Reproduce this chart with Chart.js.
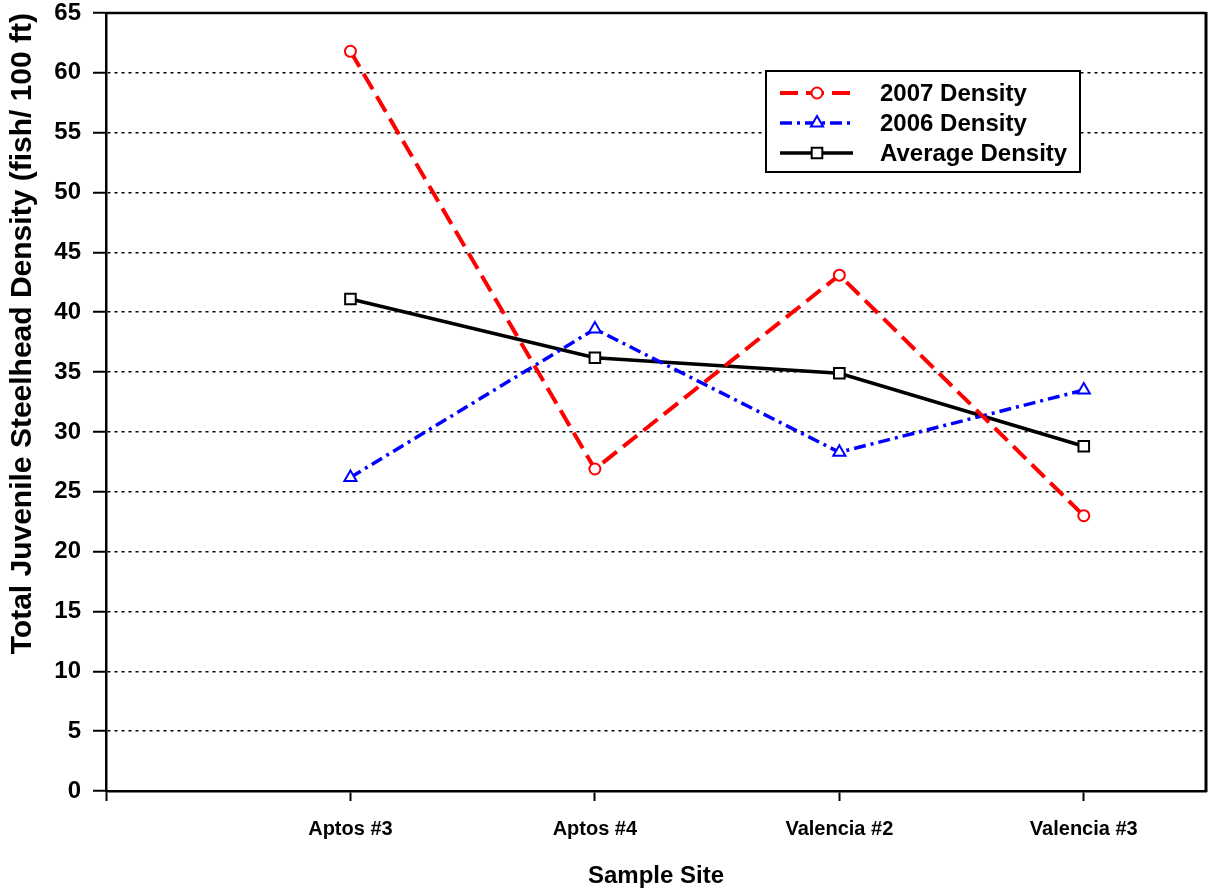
<!DOCTYPE html>
<html>
<head>
<meta charset="utf-8">
<script src="https://cdn.jsdelivr.net/npm/chart.js@4/dist/chart.umd.min.js"></script>
<style>
  html, body { margin: 0; padding: 0; background: #fff; }
  #wrap { width: 1210px; height: 892px; }
</style>
</head>
<body>
<div id="wrap"><canvas id="c" width="1210" height="892"></canvas></div>
<script>
const categories = ['Aptos #3', 'Aptos #4', 'Valencia #2', 'Valencia #3'];
const density2007 = [61.8, 26.9, 43.1, 23.0];
const density2006 = [26.2, 38.6, 28.3, 33.5];
const densityAvg = [41.1, 36.2, 34.9, 28.8];
const yTicks = [0, 5, 10, 15, 20, 25, 30, 35, 40, 45, 50, 55, 60, 65];
const seriesNames = ['2007 Density', '2006 Density', 'Average Density'];

const FONT = "Arial, 'Liberation Sans', sans-serif";
const toPts = arr => arr.map((v, i) => ({ x: i + 1, y: v }));

function drawMarker(ctx, ds, x, y) {
  ctx.save();
  ctx.setLineDash([]);
  ctx.lineWidth = ds.pointBorderWidth;
  ctx.strokeStyle = ds.pointBorderColor;
  ctx.fillStyle = ds.pointBackgroundColor;
  if (Chart.helpers && Chart.helpers.drawPoint) {
    Chart.helpers.drawPoint(ctx, { pointStyle: ds.pointStyle, rotation: 0, radius: ds.pointRadius, borderWidth: ds.pointBorderWidth }, x, y);
  } else {
    ctx.beginPath();
    ctx.arc(x, y, ds.pointRadius, 0, Math.PI * 2);
    ctx.fill();
    ctx.stroke();
  }
  ctx.restore();
}

const framePlugin = {
  id: 'frame',
  afterDraw(chart) {
    const { ctx, chartArea: a } = chart;
    ctx.save();
    ctx.strokeStyle = '#000';
    ctx.setLineDash([]);
    ctx.lineWidth = 2.5;
    ctx.beginPath();
    ctx.moveTo(a.left, a.top);
    ctx.lineTo(a.right, a.top);
    ctx.stroke();
    ctx.lineWidth = 3;
    ctx.beginPath();
    ctx.moveTo(a.right, a.top - 1);
    ctx.lineTo(a.right, a.bottom + 1);
    ctx.stroke();
    ctx.restore();

    // legend box
    const bx = a.left + 660, by = a.top + 58, bw = 314, bh = 101;
    ctx.save();
    ctx.fillStyle = '#fff';
    ctx.fillRect(bx, by, bw, bh);
    ctx.lineWidth = 2;
    ctx.strokeStyle = '#000';
    ctx.strokeRect(bx, by, bw, bh);
    const rows = [22, 52, 82];
    chart.data.datasets.forEach((ds, i) => {
      const y = by + rows[i];
      ctx.save();
      ctx.strokeStyle = ds.borderColor;
      ctx.lineWidth = ds.borderWidth;
      ctx.setLineDash(ds.borderDash || []);
      ctx.beginPath();
      ctx.moveTo(bx + 14, y);
      ctx.lineTo(bx + 87, y);
      ctx.stroke();
      ctx.restore();
      drawMarker(ctx, ds, bx + 51, y);
      ctx.fillStyle = '#000';
      ctx.font = 'bold 24px ' + FONT;
      ctx.textBaseline = 'middle';
      ctx.textAlign = 'left';
      ctx.fillText(ds.label, bx + 114, y + 1);
    });
    ctx.restore();
  }
};

new Chart(document.getElementById('c'), {
  type: 'line',
  data: {
    datasets: [
      {
        label: seriesNames[0],
        data: toPts(density2007),
        borderColor: '#ff0000',
        borderWidth: 4,
        borderDash: [18, 8],
        pointStyle: 'circle',
        pointRadius: 5.5,
        pointBorderColor: '#ff0000',
        pointBackgroundColor: '#ffffff',
        pointBorderWidth: 2,
        tension: 0,
        fill: false
      },
      {
        label: seriesNames[1],
        data: toPts(density2006),
        borderColor: '#0000ff',
        borderWidth: 3.5,
        borderDash: [12, 5, 3, 5],
        pointStyle: 'triangle',
        pointRadius: 7,
        pointBorderColor: '#0000ff',
        pointBackgroundColor: '#ffffff',
        pointBorderWidth: 2,
        tension: 0,
        fill: false
      },
      {
        label: seriesNames[2],
        data: toPts(densityAvg),
        borderColor: '#000000',
        borderWidth: 3.5,
        borderDash: [],
        pointStyle: 'rect',
        pointRadius: 7.5,
        pointBorderColor: '#000000',
        pointBackgroundColor: '#ffffff',
        pointBorderWidth: 2,
        tension: 0,
        fill: false
      }
    ]
  },
  options: {
    responsive: false,
    animation: false,
    devicePixelRatio: 1,
    layout: { autoPadding: false, padding: { top: 13, right: 4, left: 0, bottom: 0 } },
    plugins: {
      legend: { display: false },
      tooltip: { enabled: false }
    },
    scales: {
      x: {
        type: 'linear',
        min: 0,
        max: 4.5,
        afterBuildTicks: s => { s.ticks = [0, 1, 2, 3, 4].map(v => ({ value: v })); },
        afterFit: s => { s.height = 101; s.paddingLeft = 0; s.paddingRight = 0; },
        ticks: {
          autoSkip: false,
          maxRotation: 0,
          padding: 16,
          color: '#000',
          font: { family: FONT, size: 20, weight: 'bold' },
          callback: v => categories[v - 1] || ''
        },
        grid: {
          drawOnChartArea: false,
          drawTicks: true,
          tickLength: 10,
          tickWidth: 2,
          tickColor: '#000'
        },
        border: { display: true, color: '#000', width: 2.5 },
        title: {
          display: true,
          text: 'Sample Site',
          color: '#000',
          font: { family: FONT, size: 24, weight: 'bold' },
          padding: { top: 0, bottom: 1 }
        }
      },
      y: {
        min: 0,
        max: 65,
        afterBuildTicks: s => { s.ticks = yTicks.map(v => ({ value: v })); },
        afterFit: s => { s.width = 106; s.paddingTop = 0; s.paddingBottom = 0; },
        ticks: {
          padding: 12,
          color: '#000',
          font: { family: FONT, size: 24, weight: 'bold' }
        },
        grid: {
          color: c => (c.tick && (c.tick.value === 0 || c.tick.value === 65)) ? 'rgba(0,0,0,0)' : '#000',
          lineWidth: 1.5,
          drawTicks: true,
          tickLength: 13,
          tickWidth: 2,
          tickColor: '#000'
        },
        border: { display: true, color: '#000', width: 2.5, dash: [3, 4] },
        title: {
          display: true,
          align: 'end',
          text: 'Total Juvenile Steelhead Density (fish/ 100 ft)',
          color: '#000',
          font: { family: FONT, size: 30, weight: 'bold' },
          padding: { top: 5, bottom: 0 }
        }
      }
    }
  },
  plugins: [framePlugin]
});
</script>
</body>
</html>
